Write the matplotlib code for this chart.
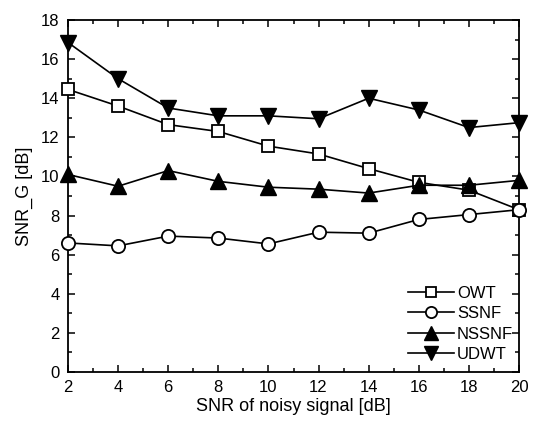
import matplotlib
matplotlib.use("Agg")
import matplotlib.pyplot as plt
from matplotlib.ticker import MultipleLocator

x = [2, 4, 6, 8, 10, 12, 14, 16, 18, 20]
owt = [14.45, 13.6, 12.65, 12.3, 11.55, 11.15, 10.4, 9.7, 9.3, 8.3]
ssnf = [6.6, 6.45, 6.95, 6.85, 6.55, 7.15, 7.1, 7.8, 8.05, 8.3]
nssnf = [10.1, 9.5, 10.3, 9.75, 9.45, 9.35, 9.15, 9.55, 9.55, 9.8]
udwt = [16.85, 15.0, 13.5, 13.1, 13.1, 12.95, 14.0, 13.4, 12.5, 12.75]

plt.rcParams['font.family'] = ['Liberation Sans', 'DejaVu Sans']

fig = plt.figure(figsize=(5.38, 4.25), dpi=100)
ax = fig.add_axes([0.1264, 0.1247, 0.8383, 0.8282])

kw = dict(color='black', lw=1.2, clip_on=False, zorder=3)
ax.plot(x, owt, marker='s', ms=8.5, mfc='white', mec='black', mew=1.3, label='OWT', **kw)
ax.plot(x, ssnf, marker='o', ms=9.5, mfc='white', mec='black', mew=1.3, label='SSNF', **kw)
ax.plot(x, nssnf, marker='^', ms=12, mfc='black', mec='black', label='NSSNF', **kw)
ax.plot(x, udwt, marker='v', ms=12, mfc='black', mec='black', label='UDWT', **kw)

ax.set_xlim(2, 20)
ax.set_ylim(0, 18)
ax.xaxis.set_major_locator(MultipleLocator(2))
ax.xaxis.set_minor_locator(MultipleLocator(1))
ax.yaxis.set_major_locator(MultipleLocator(2))
ax.yaxis.set_minor_locator(MultipleLocator(1))
ax.tick_params(which='both', direction='in', top=True, right=True, labelsize=12, width=1.1, pad=6)
ax.tick_params(which='major', length=5)
ax.tick_params(which='minor', length=3)
for s in ax.spines.values():
    s.set_linewidth(1.3)

ax.set_xlabel('SNR of noisy signal [dB]', fontsize=13, labelpad=2)
ax.set_ylabel('SNR_G [dB]', fontsize=13, labelpad=6)

leg = ax.legend(loc='lower right', frameon=False, fontsize=12, handlelength=2.8,
                handletextpad=0.15, labelspacing=0.33, borderaxespad=0, borderpad=0,
                markerscale=0.85, bbox_to_anchor=(1 - 6 / 451, 10 / 352))

fig.savefig('out.png', dpi=100)
